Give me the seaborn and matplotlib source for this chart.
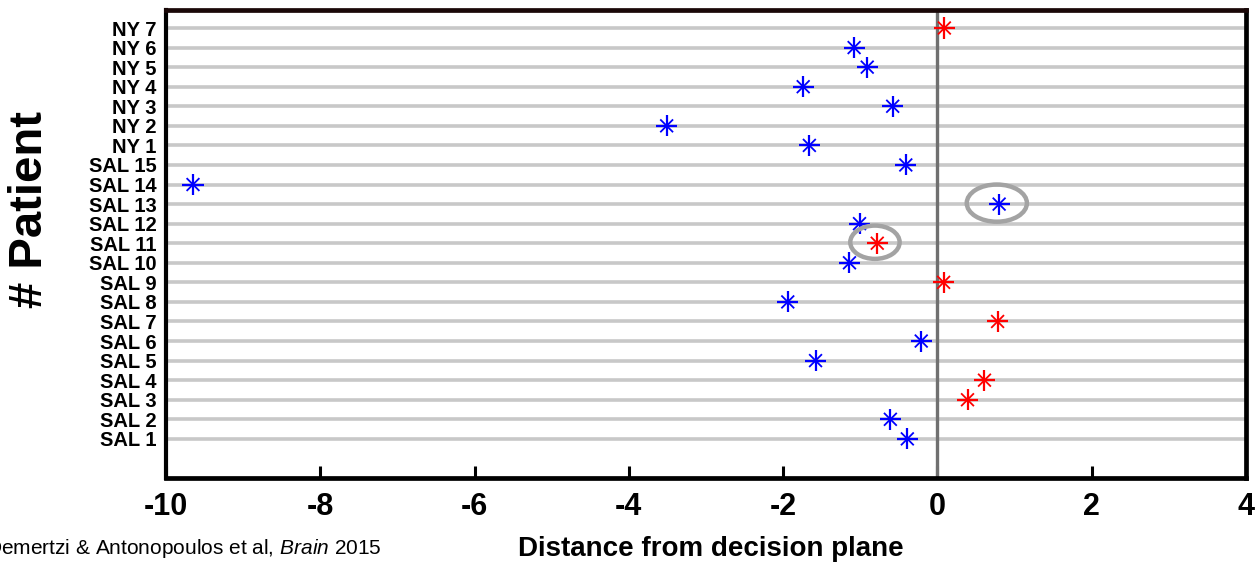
import matplotlib
matplotlib.use("Agg")
import matplotlib.pyplot as plt
import seaborn as sns
import pandas as pd
import numpy as np
from matplotlib.patches import Ellipse

# ---- data (top row first) ----
patients = ["NY 7", "NY 6", "NY 5", "NY 4", "NY 3", "NY 2", "NY 1",
            "SAL 15", "SAL 14", "SAL 13", "SAL 12", "SAL 11", "SAL 10", "SAL 9",
            "SAL 8", "SAL 7", "SAL 6", "SAL 5", "SAL 4", "SAL 3", "SAL 2", "SAL 1"]
distance = [0.09, -1.08, -0.91, -1.74, -0.58, -3.51, -1.66,
            -0.41, -9.65, 0.80, -1.01, -0.78, -1.14, 0.08,
            -1.94, 0.78, -0.21, -1.58, 0.61, 0.39, -0.61, -0.39]
group = ["red", "blue", "blue", "blue", "blue", "blue", "blue",
         "blue", "blue", "blue", "blue", "red", "blue", "red",
         "blue", "red", "blue", "blue", "red", "red", "blue", "blue"]
circled = ["SAL 13", "SAL 11"]
x_ticks = [-10, -8, -6, -4, -2, 0, 2, 4]

sns.set_theme(style="white")
plt.rcParams['font.family'] = ['Liberation Sans', 'DejaVu Sans']
plt.rcParams['text.color'] = 'black'
plt.rcParams['xtick.color'] = 'black'
plt.rcParams['ytick.color'] = 'black'
plt.rcParams['mathtext.fontset'] = 'custom'
plt.rcParams['mathtext.it'] = 'Liberation Sans:italic'
plt.rcParams['mathtext.rm'] = 'Liberation Sans'

df = pd.DataFrame({"patient": patients, "distance": distance, "group": group})
df["row"] = np.arange(len(patients))
palette = {"red": "#ff0000", "blue": "#0000ff"}

fig = plt.figure(figsize=(12.55, 5.63), dpi=100)
ax = fig.add_axes([166/1255, 1-478/563, (1246-166)/1255, (478-10)/563])

# grid rows and decision plane
ax.hlines(df["row"], -10, 4, color="#c8c8c8", lw=2.6, zorder=0)
ax.axvline(0, color="#707070", lw=2.4, zorder=1)

# asterisk markers: plus + cross
sns.scatterplot(data=df, x="distance", y="row", hue="group", palette=palette,
                marker="+", s=230, linewidth=1.6, legend=False, ax=ax, zorder=3)
sns.scatterplot(data=df, x="distance", y="row", hue="group", palette=palette,
                marker="x", s=85, linewidth=1.3, legend=False, ax=ax, zorder=3)

# gray ellipses around highlighted patients
ell_sizes = {"SAL 13": (0.78, 1.9), "SAL 11": (0.64, 1.7)}
for p in circled:
    r = df[df.patient == p].iloc[0]
    w, h = ell_sizes[p]
    ax.add_patch(Ellipse((r.distance - 0.03, r.row - 0.05), w, h, fill=False,
                         edgecolor="#a3a3a3", lw=3.2, zorder=4))

ax.set_xlim(-10, 4)
ax.set_ylim(23.0, -0.92)
ax.set_xticks(x_ticks)
ax.set_xticklabels([str(t) for t in x_ticks], fontsize=22, fontweight="bold")
ax.set_yticks(df["row"])
ax.set_yticklabels(patients, fontsize=14.5, fontweight="bold")
ax.tick_params(axis="x", direction="in", length=9, width=2.2, pad=10, bottom=True, top=False, colors="black")
ax.tick_params(axis="y", length=0, pad=7, colors="black")
ax.set_xlabel("")
ax.set_ylabel("")
for s in ["left", "right", "top", "bottom"]:
    ax.spines[s].set_visible(True)
    ax.spines[s].set_linewidth(3.4)
    ax.spines[s].set_color("black")
ax.spines["top"].set_color("#1a0808")
ax.spines["left"].set_linewidth(3.0)

fig.text(30/1255, 1-209/563, "# Patient", rotation=90, ha="center", va="center",
         fontsize=34, fontweight="bold", color="black")
fig.text(711/1255, 1-549/563, "Distance from decision plane", ha="center", va="center",
         fontsize=20, fontweight="bold", color="black")
fig.text(382/1255, 1-549/563, r"Demertzi & Antonopoulos et al, $\it{Brain}$ 2015",
         ha="right", va="center", fontsize=15, color="black")

fig.savefig("out.png", dpi=100)
